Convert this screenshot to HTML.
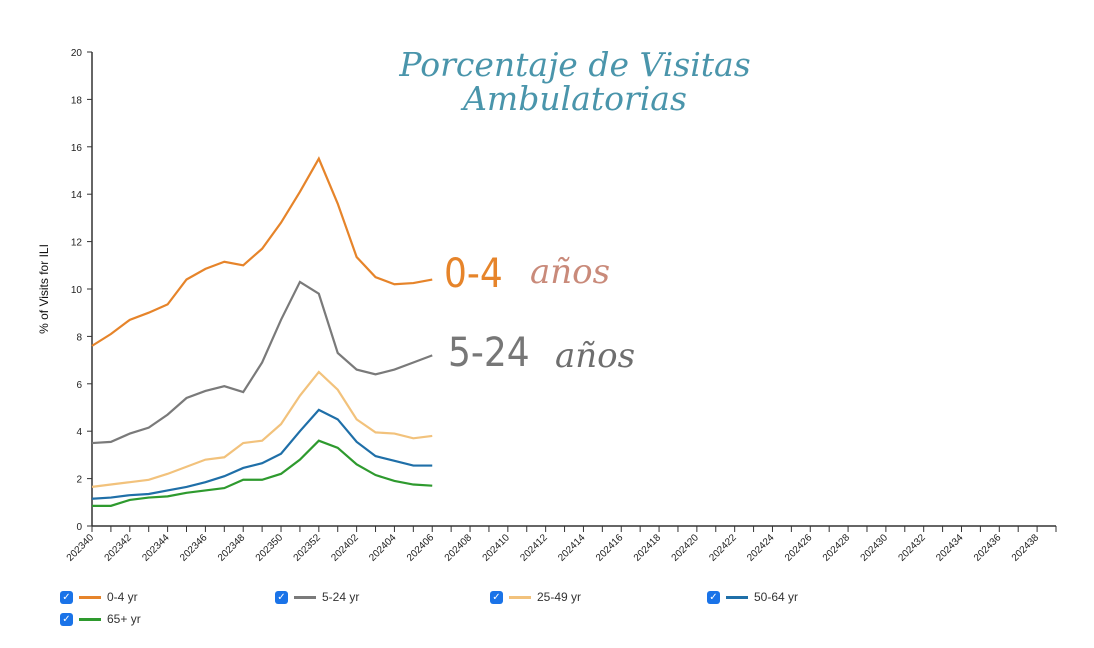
<!DOCTYPE html>
<html><head><meta charset="utf-8"><style>
body{margin:0;background:#fff;width:1094px;height:648px;overflow:hidden;font-family:"Liberation Sans",sans-serif}
svg{position:absolute;left:0;top:0}
.lg{position:absolute;font-size:12px;color:#333;display:flex;align-items:center}
.cb{width:13px;height:13px;background:#1a73e8;border-radius:3px;color:#fff;font-size:10px;line-height:13px;text-align:center;margin-right:6px}
.sw{width:22px;height:3px;margin-right:6px}
</style></head><body>
<svg id="chart" width="1094" height="648"></svg>
<div class="lg" style="left:60px;top:590px"><span class="cb">✓</span><span class="sw" style="background:#e6842a"></span>0-4 yr</div>
<div class="lg" style="left:275px;top:590px"><span class="cb">✓</span><span class="sw" style="background:#7a7a7a"></span>5-24 yr</div>
<div class="lg" style="left:490px;top:590px"><span class="cb">✓</span><span class="sw" style="background:#f2c27c"></span>25-49 yr</div>
<div class="lg" style="left:707px;top:590px"><span class="cb">✓</span><span class="sw" style="background:#1f6fa8"></span>50-64 yr</div>
<div class="lg" style="left:60px;top:612px"><span class="cb">✓</span><span class="sw" style="background:#2e9a2e"></span>65+ yr</div>
<script>
const weeks=[];
for(let w=40;w<=52;w++)weeks.push('2023'+w);
for(let w=1;w<=39;w++)weeks.push('2024'+String(w).padStart(2,'0'));
const yTicks=[0,2,4,6,8,10,12,14,16,18,20];
const s04=[7.6,8.1,8.7,9.0,9.35,10.4,10.85,11.15,11.0,11.7,12.8,14.1,15.5,13.6,11.35,10.5,10.2,10.25,10.4];
const s524=[3.5,3.55,3.9,4.15,4.7,5.4,5.7,5.9,5.65,6.9,8.7,10.3,9.8,7.3,6.6,6.4,6.6,6.9,7.2];
const s2549=[1.65,1.75,1.85,1.95,2.2,2.5,2.8,2.9,3.5,3.6,4.3,5.5,6.5,5.75,4.5,3.95,3.9,3.7,3.8];
const s5064=[1.15,1.2,1.3,1.35,1.5,1.65,1.85,2.1,2.45,2.65,3.05,4.0,4.9,4.5,3.55,2.95,2.75,2.55,2.55];
const s65=[0.85,0.85,1.1,1.2,1.25,1.4,1.5,1.6,1.95,1.95,2.2,2.8,3.6,3.3,2.6,2.15,1.9,1.75,1.7];
const NS='http://www.w3.org/2000/svg';
const svg=document.getElementById('chart');
const X0=92,X1=1056,Y0=526,Y1=52;
const x=i=>X0+i*(X1-X0)/(weeks.length-1);
const y=v=>Y0-(v/20)*(Y0-Y1);
function mk(t,a,p){const e=document.createElementNS(NS,t);for(const k in a)e.setAttribute(k,a[k]);(p||svg).appendChild(e);return e;}
let e=mk('line',{x1:X0,y1:Y1,x2:X0,y2:Y0,stroke:'#333','stroke-width':1.5});


e=mk('line',{x1:X0,y1:Y0,x2:X1,y2:Y0,stroke:'#333','stroke-width':1.5});


yTicks.forEach(v=>{
 mk('line',{x1:X0-5,y1:y(v),x2:X0,y2:y(v),stroke:'#333'});
 const t=mk('text',{x:X0-10,y:y(v)+4,'text-anchor':'end','font-size':10,fill:'#222'});t.textContent=v;
 
 
});
weeks.forEach((w,i)=>{
 mk('line',{x1:x(i),y1:Y0,x2:x(i),y2:Y0+6,stroke:'#333'});
 if(i%2===0&&i<weeks.length-1){const t=mk('text',{x:x(i)+2,y:Y0+12,'text-anchor':'end','font-size':10,fill:'#222',transform:`rotate(-45 ${x(i)+2} ${Y0+12})`});t.textContent=w;
 
 }
});
let yt=mk('text',{x:48,y:289,'text-anchor':'middle','font-size':12,fill:'#111',transform:'rotate(-90 48 289)'});yt.textContent='% of Visits for ILI';


const series=[[s04,'#e6842a','line-0-4'],[s524,'#7a7a7a','line-5-24'],[s2549,'#f2c27c','line-25-49'],[s5064,'#1f6fa8','line-50-64'],[s65,'#2e9a2e','line-65plus']];
series.forEach(([d,c,n])=>{
 const p=mk('path',{d:d.map((v,i)=>(i?'L':'M')+x(i)+','+y(v)).join(''),fill:'none',stroke:c,'stroke-width':2.2});
 
 
});
function txt(s,a,n){const t=mk('text',a);t.textContent=s;}
txt('Porcentaje de Visitas',{x:575,y:76,'text-anchor':'middle','font-size':33,'font-style':'italic','font-family':'DejaVu Serif,serif',fill:'#4a95ab'},'title-line-1');
txt('Ambulatorias',{x:575,y:110,'text-anchor':'middle','font-size':33,'font-style':'italic','font-family':'DejaVu Serif,serif',fill:'#4a95ab'},'title-line-2');
txt('0-4',{x:444,y:287,'font-size':40,'font-family':'DejaVu Sans Condensed,sans-serif','font-weight':200,fill:'#e6842a'},'annotation-0-4');
txt('años',{x:530,y:283,'font-size':34,'font-style':'italic','font-family':'DejaVu Serif,serif',fill:'#c98a7a'},'annotation-anos-1');
txt('5-24',{x:448,y:366,'font-size':40,'font-family':'DejaVu Sans Condensed,sans-serif',fill:'#777'},'annotation-5-24');
txt('años',{x:555,y:367,'font-size':34,'font-style':'italic','font-family':'DejaVu Serif,serif',fill:'#6e6e6e'},'annotation-anos-2');
</script>
</body></html>
